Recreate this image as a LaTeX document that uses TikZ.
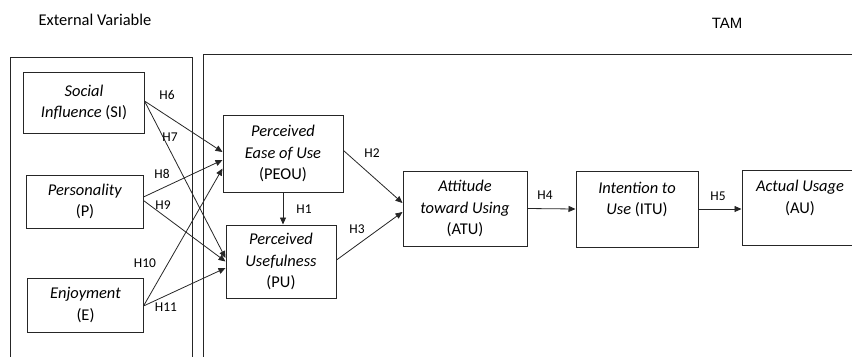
\documentclass[tikz,border=0pt]{standalone}
\usepackage{fontspec}
\setmainfont{Carlito}
\newfontfamily\tamfont{Liberation Sans}
\usetikzlibrary{arrows.meta}
\usetikzlibrary{calc}

\tikzset{
  varbox/.style={draw=black!85, line width=1bp, align=center, inner sep=0pt, font=\fontsize{16.5}{21.5}\selectfont},
  frame/.style={draw=black!85, line width=1bp},
  hyp/.style={-{Triangle[length=7bp,width=6bp]}, line width=0.8bp, draw=black!85},
  hlabel/.style={font=\fontsize{13.5}{15}\selectfont, inner sep=0pt},
}

\begin{document}
\begin{tikzpicture}[x=1bp,y=-1bp]
\useasboundingbox (0,0) rectangle (852,356);
\clip (0,0) rectangle (852,356);

\node[font=\fontsize{16.5}{18}\selectfont] (extlabel) at (95,20) {External Variable};
\node[font=\tamfont\fontsize{15}{17}\selectfont] (tamlabel) at (727,23) {TAM};
\draw[frame] (10,57) rectangle (192,380);
\draw[frame] (203,54) rectangle (880,380);

% external variables
\node[varbox, minimum width=120bp, minimum height=61bp] (si) at (84,102.5) {\textit{Social}\\\textit{Influence} (SI)};
\node[varbox, minimum width=116bp, minimum height=53bp] (p) at (85,201.5) {\textit{Personality}\\(P)};
\node[varbox, minimum width=115bp, minimum height=54bp] (e) at (85.5,305) {\textit{Enjoyment}\\(E)};

% TAM constructs
\node[varbox, minimum width=120bp, minimum height=77bp] (peou) at (283,153.5) {\textit{Perceived}\\\textit{Ease of Use}\\(PEOU)};
\node[varbox, minimum width=110bp, minimum height=73bp] (pu) at (281,261.5) {\textit{Perceived}\\\textit{Usefulness}\\(PU)};
\node[varbox, minimum width=124bp, minimum height=75bp] (atu) at (465,208.5) {\textit{Attitude}\\\textit{toward Using}\\(ATU)};
\node[varbox, minimum width=122bp, minimum height=76bp] (itu) at (637,209) {\textit{Intention to}\\\textit{Use} (ITU)\\\mbox{}};
\node[varbox, minimum width=116bp, minimum height=75bp] (au) at (800,207.5) {\textit{Actual Usage}\\(AU)\\\mbox{}};

% hypotheses
\draw[hyp] (peou.south) -- (peou.south |- pu.north);
\draw[hyp] ($(peou.east)+(0,-3)$) -- ($(atu.west)+(0,-5.5)$);
\draw[hyp] ($(pu.east)+(0,-1.5)$) -- ($(atu.west)+(0,3.5)$);
\draw[hyp] (atu.east) -- (itu.west);
\draw[hyp] (itu.east) -- (itu.east -| au.west);
\draw[hyp] ($(si.east)+(0,-1.5)$) -- ($(peou.west)+(0,-1.5)$);
\draw[hyp] ($(si.east)+(0,-1.5)$) -- ($(pu.west)+(0,-3.5)$);
\draw[hyp] ($(p.east)+(0,-4.5)$) -- ($(peou.west)+(0,6.5)$);
\draw[hyp] ($(p.east)+(0,-1)$) -- (pu.west);
\draw[hyp] ($(e.east)+(0,1)$) -- ($(peou.west)+(0,15)$);
\draw[hyp] ($(e.east)+(0,1)$) -- ($(pu.west)+(0,6.5)$);

\node[hlabel] (h1) at (304,209) {H1};
\node[hlabel] (h2) at (372,153) {H2};
\node[hlabel] (h3) at (357,229) {H3};
\node[hlabel] (h4) at (545,195) {H4};
\node[hlabel] (h5) at (718,196) {H5};
\node[hlabel] (h6) at (167,95) {H6};
\node[hlabel] (h7) at (170,137) {H7};
\node[hlabel] (h8) at (162,174) {H8};
\node[hlabel] (h9) at (163,205) {H9};
\node[hlabel] (h10) at (145,263) {H10};
\node[hlabel] (h11) at (166,307) {H11};
\end{tikzpicture}
\end{document}
